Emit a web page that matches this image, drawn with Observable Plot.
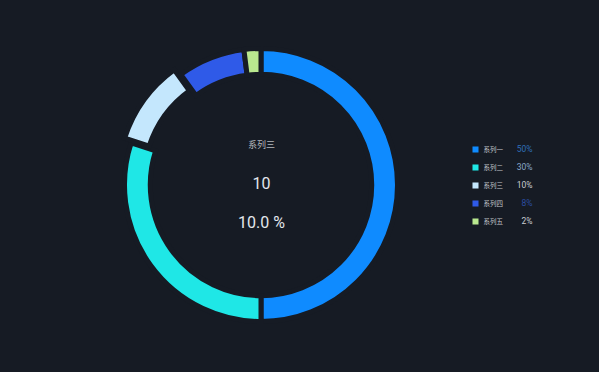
<!DOCTYPE html>
<html>
<head>
<meta charset="utf-8">
<script src="https://cdn.jsdelivr.net/npm/d3@7"></script>
<script src="https://cdn.jsdelivr.net/npm/@observablehq/plot@0.6"></script>
<style>
  html, body { margin: 0; padding: 0; background: #161b24; }
  #wrap { position: relative; width: 599px; height: 372px; overflow: hidden; background: #161b24; }
  #legend { position: absolute; left: 467px; top: 140px; }
  svg { display: block; }
</style>
</head>
<body>
<div id="wrap"><div id="chart"></div><div id="legend"></div></div>
<script>
const categories = ["系列一", "系列二", "系列三", "系列四", "系列五"];
const values = [50, 30, 10, 8, 2];
const colors = ["#0f8bff", "#1fe7e6", "#c4e7fd", "#2f5ae8", "#b9e88f"];
const valueLabels = ["50%", "30%", "10%", "8%", "2%"];
const valueColors = ["#2f6fb8", "#8aa9c8", "#c9ccd1", "#2b4da0", "#c9ccd1"];
const focusIndex = 2;

const data = categories.map((c, i) => ({name: c, value: values[i], color: colors[i]}));
const total = d3.sum(values);
const bg = "#161b24";
const font = "Roboto, 'Noto Sans CJK SC', sans-serif";

const pie = d3.pie().sort(null).value(d => d.value)(data);

function ringMark(index, scales) {
  const cx = scales.x(0), cy = scales.y(0);
  const R = scales.x(1) - cx;
  const arc = d3.arc().outerRadius(R + 2.5).innerRadius(R * 0.845 - 2.5);
  const selOffset = R * 0.06;
  const g = d3.create("svg:g").attr("transform", `translate(${cx},${cy})`);
  g.selectAll("path").data(pie).join("path")
    .attr("d", arc)
    .attr("transform", (d, i) => {
      if (i !== focusIndex) return null;
      const mid = (d.startAngle + d.endAngle) / 2;
      return `translate(${selOffset * Math.sin(mid)},${-selOffset * Math.cos(mid)})`;
    })
    .attr("fill", d => d.data.color)
    .attr("stroke", bg)
    .attr("stroke-width", 5)
    .attr("stroke-linejoin", "miter");
  return g.node();
}

const focus = data[focusIndex];
const center = [{x: 0, y: 0}];

const chart = Plot.plot({
  width: 599,
  height: 372,
  margin: 0,
  style: {background: bg, fontFamily: font},
  x: {domain: [-1, 1], range: [261 - 134, 261 + 134], axis: null},
  y: {domain: [-1, 1], range: [185 + 134, 185 - 134], axis: null},
  marks: [
    ringMark,
    Plot.text(center, {x: "x", y: "y", text: () => focus.name, dy: -40, fill: "#b3b7bc", fontSize: 9}),
    Plot.text(center, {x: "x", y: "y", text: () => String(focus.value), dy: -2, fill: "#e3e7ec", fontSize: 16}),
    Plot.text(center, {x: "x", y: "y", text: () => (focus.value / total * 100).toFixed(1) + " %", dy: 37, fill: "#e3e7ec", fontSize: 16})
  ]
});
document.getElementById("chart").appendChild(chart);

const legend = Plot.plot({
  width: 75,
  height: 90,
  margin: 0,
  style: {background: "transparent", fontFamily: font},
  x: {domain: [0, 75], range: [0, 75], axis: null},
  y: {domain: categories, type: "band", padding: 0, axis: null},
  marks: [
    Plot.dot(data, {x: () => 8, y: "name", symbol: "square", r: 3.4, fill: d => d.color, stroke: null}),
    Plot.text(data, {x: () => 16, y: "name", text: "name", textAnchor: "start", fill: "#c2c6cb", fontSize: 6.5}),
    Plot.text(data, {x: () => 65, y: "name", text: (d, i) => valueLabels[i], textAnchor: "end", fill: (d, i) => valueColors[i], fontSize: 8.5})
  ]
});
document.getElementById("legend").appendChild(legend);
</script>
</body>
</html>
